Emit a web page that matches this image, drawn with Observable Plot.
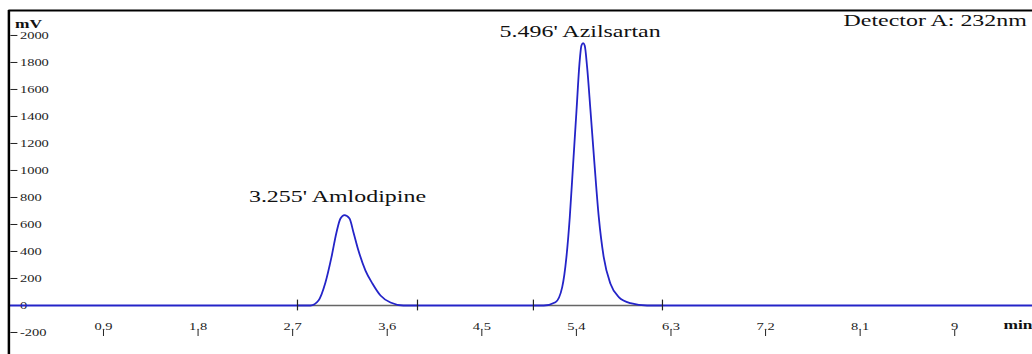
<!DOCTYPE html>
<html><head><meta charset="utf-8">
<script src="https://cdn.jsdelivr.net/npm/d3@7"></script>
<script src="https://cdn.jsdelivr.net/npm/@observablehq/plot@0.6"></script>
<style>
html,body{margin:0;padding:0;background:#fff;overflow:hidden;}
svg text{font-family:"Liberation Serif","Times New Roman",serif !important;}
</style></head><body><div id="chart"></div>
<script>
// ---- data ----
const traceTime = [0, 2.870, 2.946, 3.012, 3.069, 3.117, 3.155, 3.193, 3.241, 3.279, 3.326, 3.393, 3.459, 3.536, 3.631, 3.754,
  5.089, 5.201, 5.265, 5.305, 5.337, 5.369, 5.401, 5.429, 5.448, 5.464, 5.479, 5.502, 5.534, 5.572, 5.613, 5.660, 5.724, 5.803, 5.914, 6.073, 9.74];
const traceMV = [0, 0, 37, 170, 356, 541, 644, 669, 644, 541, 407, 259, 163, 74, 22, 0,
  0, 24, 136, 358, 654, 1049, 1444, 1790, 1926, 1943, 1926, 1765, 1444, 1049, 654, 358, 161, 62, 17, 0, 0];

const peakNames = ["Amlodipine", "Azilsartan"];
const peakRT = ["3.255'", "5.496'"];
const peakApexTime = [3.193, 5.464];
const peakApexMV = [669, 1943];

const integStart = [2.746, 4.991];
const integEnd = [3.888, 6.219];

const xTicks = [0.9, 1.8, 2.7, 3.6, 4.5, 5.4, 6.3, 7.2, 8.1, 9];
const yTicks = [-200, 0, 200, 400, 600, 800, 1000, 1200, 1400, 1600, 1800, 2000];
const xDomain = [0, 9.74];
const yDomain = [-363, 2185];

const yUnit = "mV";
const xUnit = "min";
const detectorText = "Detector A: 232nm";

// ---- tables built from the arrays ----
const trace = traceTime.map((t, i) => ({t, v: traceMV[i]}));
const peaks = peakNames.map((n, i) => ({label: `${peakRT[i]} ${n}`, t: peakApexTime[i], v: peakApexMV[i]}));
const integrations = integStart.map((s, i) => ({start: s, end: integEnd[i]}));
const bounds = integStart.flatMap((s, i) => [s, integEnd[i]]);

const BLUE = "#2424c8";
const FONT = "Liberation Serif, Times New Roman, serif";

const chart = Plot.plot({
  width: 1032,
  height: 354,
  marginLeft: 8.4,
  marginRight: 0,
  marginTop: 10,
  marginBottom: 0,
  x: {domain: xDomain},
  y: {domain: yDomain},
  style: {fontFamily: FONT, background: "#fff"},
  marks: [
    Plot.axisY(yTicks, {anchor: "left", tickSize: 7, dx: 9, tickPadding: -9, textAnchor: "start",
      tickFormat: d => String(d), fontSize: 10, color: "#222", label: null}),
    Plot.axisX(xTicks, {anchor: "top", dy: 325, tickSize: 6, tickPadding: 0,
      tickFormat: d => String(d), fontSize: 10, color: "#222", label: null}),
    Plot.ruleY(integrations, {y: () => 0, x1: "start", x2: "end", stroke: "#666", strokeWidth: 1.6}),
    Plot.line(trace, {x: "t", y: "v", stroke: BLUE, strokeWidth: 1.8, curve: "monotone-x"}),
    Plot.ruleX(bounds, {x: d => d, y1: -40, y2: 40, stroke: "#222", strokeWidth: 1.2}),
    Plot.ruleX([xDomain[0]], {stroke: "#000", strokeWidth: 2.5}),
    Plot.ruleY([yDomain[1]], {stroke: "#000", strokeWidth: 2}),
    Plot.text([peaks[0]], {x: "t", y: "v", text: "label", dx: -7, dy: -18, fontSize: 16.5, fill: "#111", lineAnchor: "middle"}),
    Plot.text([peaks[1]], {x: "t", y: "v", text: "label", dx: -3, dy: -11, fontSize: 16.5, fill: "#111", lineAnchor: "middle"}),
    Plot.text([detectorText], {frameAnchor: "top-right", text: d => d, textAnchor: "start", lineAnchor: "middle", dx: -189, dy: 10.5, fontSize: 16.5, fill: "#111"}),
    Plot.text([yUnit], {frameAnchor: "top-left", text: d => d, textAnchor: "start", lineAnchor: "middle", dx: 6, dy: 14, fontSize: 12, fontWeight: "bold", fill: "#111"}),
    Plot.text([xUnit], {frameAnchor: "bottom-right", text: d => d, textAnchor: "start", lineAnchor: "middle", dx: -29, dy: -29, fontSize: 12, fontWeight: "bold", fill: "#111"})
  ]
});

// the original picture is horizontally stretched: widen glyphs around their anchors
chart.querySelectorAll("text").forEach(t => {
  const tr = t.getAttribute("transform") || "";
  t.setAttribute("transform", (tr + " scale(1.45,1)").trim());
});

document.getElementById("chart").append(chart);
</script>
</body></html>
